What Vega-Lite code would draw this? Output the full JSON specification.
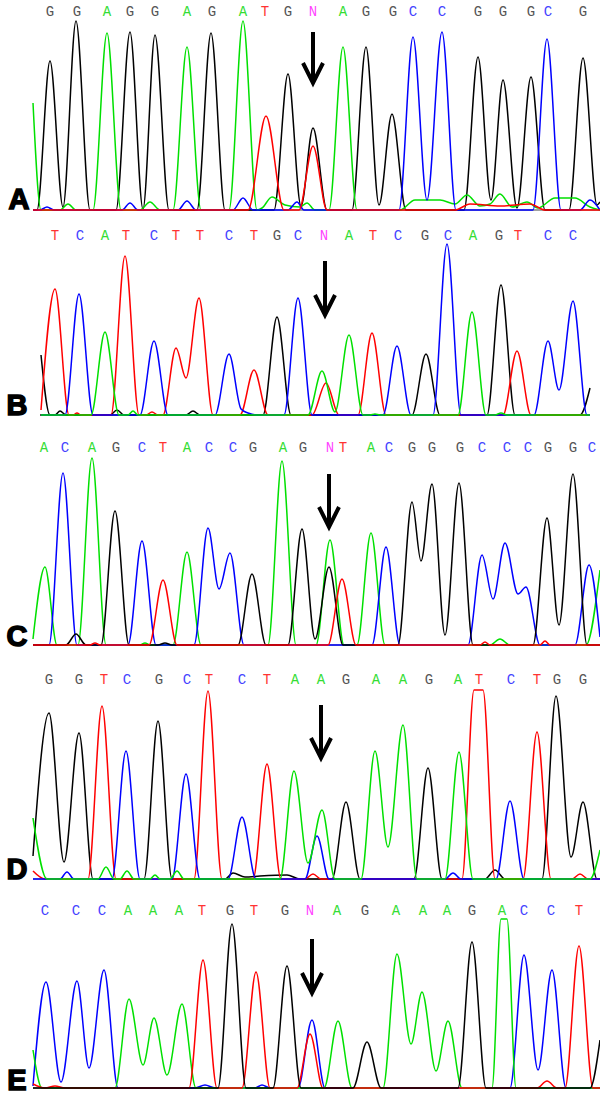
{
"$schema":"https://vega.github.io/schema/vega-lite/v6.json",
"padding":0,"spacing":0,"bounds":"flush",
"config":{"view":{"stroke":null},"concat":{"spacing":0}},
"resolve":{"scale":{"x":"independent","y":"independent","stroke":"independent","fill":"independent"}},
"datasets":{
"arr":[{"p":"A","x":313},{"p":"B","x":325},{"p":"C","x":329},{"p":"D","x":321},{"p":"E","x":312}],
"bases":[
{"p":"A","b":"G","x":50},{"p":"A","b":"G","x":77},{"p":"A","b":"A","x":107},{"p":"A","b":"G","x":130},{"p":"A","b":"G","x":155},{"p":"A","b":"A","x":187},{"p":"A","b":"G","x":212},{"p":"A","b":"A","x":243},{"p":"A","b":"T","x":265},{"p":"A","b":"G","x":288},{"p":"A","b":"N","x":313},{"p":"A","b":"A","x":343},{"p":"A","b":"G","x":366},{"p":"A","b":"G","x":393},{"p":"A","b":"C","x":413},{"p":"A","b":"C","x":442},{"p":"A","b":"G","x":478},{"p":"A","b":"G","x":503},{"p":"A","b":"G","x":531},{"p":"A","b":"C","x":548},{"p":"A","b":"G","x":583},
{"p":"B","b":"T","x":55},{"p":"B","b":"C","x":80},{"p":"B","b":"A","x":105},{"p":"B","b":"T","x":126},{"p":"B","b":"C","x":154},{"p":"B","b":"T","x":176},{"p":"B","b":"T","x":200},{"p":"B","b":"C","x":229},{"p":"B","b":"T","x":254},{"p":"B","b":"G","x":277},{"p":"B","b":"C","x":298},{"p":"B","b":"N","x":324},{"p":"B","b":"A","x":349},{"p":"B","b":"T","x":373},{"p":"B","b":"C","x":398},{"p":"B","b":"G","x":425},{"p":"B","b":"C","x":448},{"p":"B","b":"A","x":473},{"p":"B","b":"G","x":499},{"p":"B","b":"T","x":518},{"p":"B","b":"C","x":548},{"p":"B","b":"C","x":573},
{"p":"C","b":"A","x":44},{"p":"C","b":"C","x":65},{"p":"C","b":"A","x":92},{"p":"C","b":"G","x":116},{"p":"C","b":"C","x":142},{"p":"C","b":"T","x":163},{"p":"C","b":"A","x":187},{"p":"C","b":"C","x":209},{"p":"C","b":"C","x":233},{"p":"C","b":"G","x":253},{"p":"C","b":"A","x":283},{"p":"C","b":"G","x":303},{"p":"C","b":"N","x":330},{"p":"C","b":"T","x":343},{"p":"C","b":"A","x":371},{"p":"C","b":"C","x":389},{"p":"C","b":"G","x":412},{"p":"C","b":"G","x":432},{"p":"C","b":"G","x":460},{"p":"C","b":"C","x":482},{"p":"C","b":"C","x":507},{"p":"C","b":"C","x":528},{"p":"C","b":"G","x":548},{"p":"C","b":"G","x":573},{"p":"C","b":"C","x":592},
{"p":"D","b":"G","x":49},{"p":"D","b":"G","x":79},{"p":"D","b":"T","x":104},{"p":"D","b":"C","x":127},{"p":"D","b":"G","x":159},{"p":"D","b":"C","x":187},{"p":"D","b":"T","x":209},{"p":"D","b":"C","x":242},{"p":"D","b":"T","x":267},{"p":"D","b":"A","x":295},{"p":"D","b":"A","x":321},{"p":"D","b":"G","x":346},{"p":"D","b":"A","x":376},{"p":"D","b":"A","x":403},{"p":"D","b":"G","x":429},{"p":"D","b":"A","x":458},{"p":"D","b":"T","x":479},{"p":"D","b":"C","x":511},{"p":"D","b":"T","x":537},{"p":"D","b":"G","x":557},{"p":"D","b":"G","x":583},
{"p":"E","b":"C","x":45},{"p":"E","b":"C","x":76},{"p":"E","b":"C","x":102},{"p":"E","b":"A","x":128},{"p":"E","b":"A","x":153},{"p":"E","b":"A","x":179},{"p":"E","b":"T","x":202},{"p":"E","b":"G","x":230},{"p":"E","b":"T","x":254},{"p":"E","b":"G","x":285},{"p":"E","b":"N","x":310},{"p":"E","b":"A","x":337},{"p":"E","b":"G","x":365},{"p":"E","b":"A","x":396},{"p":"E","b":"A","x":423},{"p":"E","b":"A","x":447},{"p":"E","b":"G","x":472},{"p":"E","b":"A","x":502},{"p":"E","b":"C","x":524},{"p":"E","b":"C","x":551},{"p":"E","b":"T","x":579}
],
"tr":[
{"p":"A","c":"G","x":33,"y":0},{"p":"A","c":"G","x":37,"y":0},{"p":"A","c":"G","x":50,"y":149},{"p":"A","c":"G","x":63,"y":3},{"p":"A","c":"G","x":76,"y":189},{"p":"A","c":"G","x":90,"y":0},{"p":"A","c":"G","x":116,"y":0},{"p":"A","c":"G","x":130,"y":178},{"p":"A","c":"G","x":143,"y":1},{"p":"A","c":"G","x":155,"y":175},{"p":"A","c":"G","x":169,"y":0},{"p":"A","c":"G","x":197,"y":0},{"p":"A","c":"G","x":211,"y":177},{"p":"A","c":"G","x":225,"y":0},{"p":"A","c":"G","x":274,"y":0},{"p":"A","c":"G","x":288,"y":136},{"p":"A","c":"G","x":301,"y":4},{"p":"A","c":"G","x":313,"y":82},{"p":"A","c":"G","x":327,"y":0},{"p":"A","c":"G","x":352,"y":0},{"p":"A","c":"G","x":366,"y":163},{"p":"A","c":"G","x":379,"y":5},{"p":"A","c":"G","x":392,"y":96},{"p":"A","c":"G","x":406,"y":0},{"p":"A","c":"G","x":464,"y":0},{"p":"A","c":"G","x":478,"y":153},{"p":"A","c":"G","x":491,"y":10},{"p":"A","c":"G","x":503,"y":130},{"p":"A","c":"G","x":517,"y":2},{"p":"A","c":"G","x":531,"y":133},{"p":"A","c":"G","x":545,"y":0},{"p":"A","c":"G","x":569,"y":0},{"p":"A","c":"G","x":583,"y":152},{"p":"A","c":"G","x":597,"y":5},{"p":"A","c":"G","x":600,"y":8},
{"p":"A","c":"A","x":33,"y":107},{"p":"A","c":"A","x":41,"y":0},{"p":"A","c":"A","x":60,"y":0},{"p":"A","c":"A","x":68,"y":6},{"p":"A","c":"A","x":76,"y":0},{"p":"A","c":"A","x":93,"y":0},{"p":"A","c":"A","x":107,"y":177},{"p":"A","c":"A","x":121,"y":0},{"p":"A","c":"A","x":140,"y":0},{"p":"A","c":"A","x":150,"y":8},{"p":"A","c":"A","x":160,"y":0},{"p":"A","c":"A","x":173,"y":0},{"p":"A","c":"A","x":187,"y":163},{"p":"A","c":"A","x":201,"y":0},{"p":"A","c":"A","x":229,"y":0},{"p":"A","c":"A","x":243,"y":189},{"p":"A","c":"A","x":257,"y":0},{"p":"A","c":"A","x":262,"y":2},{"p":"A","c":"A","x":272,"y":13},{"p":"A","c":"A","x":285,"y":5},{"p":"A","c":"A","x":300,"y":3},{"p":"A","c":"A","x":307,"y":7},{"p":"A","c":"A","x":315,"y":0},{"p":"A","c":"A","x":329,"y":0},{"p":"A","c":"A","x":343,"y":163},{"p":"A","c":"A","x":357,"y":0},{"p":"A","c":"A","x":400,"y":0},{"p":"A","c":"A","x":415,"y":10},{"p":"A","c":"A","x":440,"y":10},{"p":"A","c":"A","x":455,"y":6},{"p":"A","c":"A","x":467,"y":15},{"p":"A","c":"A","x":480,"y":4},{"p":"A","c":"A","x":490,"y":6},{"p":"A","c":"A","x":500,"y":16},{"p":"A","c":"A","x":512,"y":3},{"p":"A","c":"A","x":527,"y":8},{"p":"A","c":"A","x":538,"y":2},{"p":"A","c":"A","x":555,"y":12},{"p":"A","c":"A","x":575,"y":12},{"p":"A","c":"A","x":590,"y":3},{"p":"A","c":"A","x":600,"y":0},
{"p":"A","c":"C","x":33,"y":0},{"p":"A","c":"C","x":40,"y":0},{"p":"A","c":"C","x":47,"y":3},{"p":"A","c":"C","x":54,"y":0},{"p":"A","c":"C","x":122,"y":0},{"p":"A","c":"C","x":130,"y":7},{"p":"A","c":"C","x":138,"y":0},{"p":"A","c":"C","x":178,"y":0},{"p":"A","c":"C","x":187,"y":9},{"p":"A","c":"C","x":196,"y":0},{"p":"A","c":"C","x":233,"y":0},{"p":"A","c":"C","x":243,"y":12},{"p":"A","c":"C","x":253,"y":0},{"p":"A","c":"C","x":288,"y":0},{"p":"A","c":"C","x":297,"y":8},{"p":"A","c":"C","x":304,"y":0},{"p":"A","c":"C","x":399,"y":0},{"p":"A","c":"C","x":413,"y":173},{"p":"A","c":"C","x":427,"y":10},{"p":"A","c":"C","x":442,"y":178},{"p":"A","c":"C","x":456,"y":0},{"p":"A","c":"C","x":533,"y":0},{"p":"A","c":"C","x":547,"y":171},{"p":"A","c":"C","x":561,"y":0},{"p":"A","c":"C","x":580,"y":0},{"p":"A","c":"C","x":590,"y":10},{"p":"A","c":"C","x":600,"y":0},
{"p":"A","c":"T","x":33,"y":0},{"p":"A","c":"T","x":248,"y":0},{"p":"A","c":"T","x":266,"y":94},{"p":"A","c":"T","x":284,"y":0},{"p":"A","c":"T","x":299,"y":0},{"p":"A","c":"T","x":313,"y":64},{"p":"A","c":"T","x":327,"y":0},{"p":"A","c":"T","x":455,"y":0},{"p":"A","c":"T","x":470,"y":6},{"p":"A","c":"T","x":500,"y":4},{"p":"A","c":"T","x":530,"y":6},{"p":"A","c":"T","x":545,"y":0},{"p":"A","c":"T","x":600,"y":0},

{"p":"B","c":"G","x":41,"y":60},{"p":"B","c":"G","x":50,"y":0},{"p":"B","c":"G","x":55,"y":0},{"p":"B","c":"G","x":60,"y":4},{"p":"B","c":"G","x":66,"y":0},{"p":"B","c":"G","x":110,"y":0},{"p":"B","c":"G","x":117,"y":5},{"p":"B","c":"G","x":124,"y":0},{"p":"B","c":"G","x":186,"y":0},{"p":"B","c":"G","x":193,"y":4},{"p":"B","c":"G","x":200,"y":0},{"p":"B","c":"G","x":263,"y":0},{"p":"B","c":"G","x":277,"y":98},{"p":"B","c":"G","x":291,"y":0},{"p":"B","c":"G","x":412,"y":0},{"p":"B","c":"G","x":426,"y":61},{"p":"B","c":"G","x":440,"y":0},{"p":"B","c":"G","x":487,"y":0},{"p":"B","c":"G","x":501,"y":130},{"p":"B","c":"G","x":515,"y":0},{"p":"B","c":"G","x":580,"y":0},{"p":"B","c":"G","x":590,"y":27},
{"p":"B","c":"T","x":41,"y":5},{"p":"B","c":"T","x":55,"y":126},{"p":"B","c":"T","x":69,"y":0},{"p":"B","c":"T","x":73,"y":0},{"p":"B","c":"T","x":77,"y":2},{"p":"B","c":"T","x":81,"y":0},{"p":"B","c":"T","x":111,"y":0},{"p":"B","c":"T","x":125,"y":159},{"p":"B","c":"T","x":139,"y":0},{"p":"B","c":"T","x":146,"y":0},{"p":"B","c":"T","x":152,"y":3},{"p":"B","c":"T","x":158,"y":0},{"p":"B","c":"T","x":163,"y":0},{"p":"B","c":"T","x":176,"y":67},{"p":"B","c":"T","x":186,"y":37},{"p":"B","c":"T","x":199,"y":117},{"p":"B","c":"T","x":213,"y":0},{"p":"B","c":"T","x":240,"y":0},{"p":"B","c":"T","x":254,"y":45},{"p":"B","c":"T","x":268,"y":0},{"p":"B","c":"T","x":312,"y":0},{"p":"B","c":"T","x":326,"y":32},{"p":"B","c":"T","x":339,"y":0},{"p":"B","c":"T","x":358,"y":0},{"p":"B","c":"T","x":372,"y":82},{"p":"B","c":"T","x":386,"y":0},{"p":"B","c":"T","x":503,"y":0},{"p":"B","c":"T","x":517,"y":64},{"p":"B","c":"T","x":531,"y":0},{"p":"B","c":"T","x":590,"y":0},
{"p":"B","c":"C","x":41,"y":0},{"p":"B","c":"C","x":65,"y":0},{"p":"B","c":"C","x":79,"y":121},{"p":"B","c":"C","x":93,"y":0},{"p":"B","c":"C","x":140,"y":0},{"p":"B","c":"C","x":154,"y":74},{"p":"B","c":"C","x":168,"y":0},{"p":"B","c":"C","x":215,"y":0},{"p":"B","c":"C","x":229,"y":61},{"p":"B","c":"C","x":241,"y":6},{"p":"B","c":"C","x":248,"y":2},{"p":"B","c":"C","x":258,"y":0},{"p":"B","c":"C","x":284,"y":0},{"p":"B","c":"C","x":298,"y":117},{"p":"B","c":"C","x":312,"y":0},{"p":"B","c":"C","x":383,"y":0},{"p":"B","c":"C","x":397,"y":69},{"p":"B","c":"C","x":411,"y":0},{"p":"B","c":"C","x":433,"y":0},{"p":"B","c":"C","x":447,"y":171},{"p":"B","c":"C","x":461,"y":0},{"p":"B","c":"C","x":534,"y":0},{"p":"B","c":"C","x":548,"y":74},{"p":"B","c":"C","x":559,"y":25},{"p":"B","c":"C","x":573,"y":114},{"p":"B","c":"C","x":587,"y":0},{"p":"B","c":"C","x":590,"y":0},
{"p":"B","c":"A","x":41,"y":0},{"p":"B","c":"A","x":91,"y":0},{"p":"B","c":"A","x":105,"y":83},{"p":"B","c":"A","x":119,"y":0},{"p":"B","c":"A","x":128,"y":0},{"p":"B","c":"A","x":133,"y":4},{"p":"B","c":"A","x":138,"y":0},{"p":"B","c":"A","x":308,"y":0},{"p":"B","c":"A","x":322,"y":44},{"p":"B","c":"A","x":335,"y":3},{"p":"B","c":"A","x":349,"y":80},{"p":"B","c":"A","x":363,"y":0},{"p":"B","c":"A","x":370,"y":0},{"p":"B","c":"A","x":375,"y":1},{"p":"B","c":"A","x":380,"y":0},{"p":"B","c":"A","x":458,"y":0},{"p":"B","c":"A","x":472,"y":103},{"p":"B","c":"A","x":486,"y":0},{"p":"B","c":"A","x":495,"y":0},{"p":"B","c":"A","x":501,"y":2},{"p":"B","c":"A","x":507,"y":0},{"p":"B","c":"A","x":590,"y":0},

{"p":"C","c":"A","x":33,"y":6},{"p":"C","c":"A","x":45,"y":78},{"p":"C","c":"A","x":57,"y":0},{"p":"C","c":"A","x":78,"y":0},{"p":"C","c":"A","x":92,"y":187},{"p":"C","c":"A","x":106,"y":0},{"p":"C","c":"A","x":140,"y":0},{"p":"C","c":"A","x":145,"y":2},{"p":"C","c":"A","x":150,"y":0},{"p":"C","c":"A","x":173,"y":0},{"p":"C","c":"A","x":187,"y":93},{"p":"C","c":"A","x":201,"y":0},{"p":"C","c":"A","x":268,"y":0},{"p":"C","c":"A","x":282,"y":184},{"p":"C","c":"A","x":296,"y":0},{"p":"C","c":"A","x":316,"y":0},{"p":"C","c":"A","x":330,"y":105},{"p":"C","c":"A","x":344,"y":0},{"p":"C","c":"A","x":357,"y":0},{"p":"C","c":"A","x":371,"y":112},{"p":"C","c":"A","x":385,"y":0},{"p":"C","c":"A","x":490,"y":0},{"p":"C","c":"A","x":500,"y":6},{"p":"C","c":"A","x":510,"y":0},{"p":"C","c":"A","x":586,"y":0},{"p":"C","c":"A","x":600,"y":75},
{"p":"C","c":"C","x":33,"y":0},{"p":"C","c":"C","x":49,"y":0},{"p":"C","c":"C","x":63,"y":172},{"p":"C","c":"C","x":77,"y":0},{"p":"C","c":"C","x":128,"y":0},{"p":"C","c":"C","x":142,"y":104},{"p":"C","c":"C","x":156,"y":0},{"p":"C","c":"C","x":194,"y":0},{"p":"C","c":"C","x":208,"y":117},{"p":"C","c":"C","x":219,"y":56},{"p":"C","c":"C","x":230,"y":92},{"p":"C","c":"C","x":244,"y":0},{"p":"C","c":"C","x":372,"y":0},{"p":"C","c":"C","x":386,"y":98},{"p":"C","c":"C","x":400,"y":0},{"p":"C","c":"C","x":468,"y":0},{"p":"C","c":"C","x":482,"y":90},{"p":"C","c":"C","x":493,"y":46},{"p":"C","c":"C","x":505,"y":102},{"p":"C","c":"C","x":518,"y":51},{"p":"C","c":"C","x":526,"y":58},{"p":"C","c":"C","x":540,"y":0},{"p":"C","c":"C","x":575,"y":0},{"p":"C","c":"C","x":589,"y":80},{"p":"C","c":"C","x":600,"y":8},
{"p":"C","c":"G","x":33,"y":0},{"p":"C","c":"G","x":66,"y":0},{"p":"C","c":"G","x":76,"y":11},{"p":"C","c":"G","x":86,"y":0},{"p":"C","c":"G","x":101,"y":0},{"p":"C","c":"G","x":115,"y":134},{"p":"C","c":"G","x":129,"y":0},{"p":"C","c":"G","x":158,"y":0},{"p":"C","c":"G","x":165,"y":2},{"p":"C","c":"G","x":172,"y":0},{"p":"C","c":"G","x":238,"y":0},{"p":"C","c":"G","x":252,"y":71},{"p":"C","c":"G","x":266,"y":0},{"p":"C","c":"G","x":288,"y":0},{"p":"C","c":"G","x":302,"y":116},{"p":"C","c":"G","x":315,"y":6},{"p":"C","c":"G","x":329,"y":78},{"p":"C","c":"G","x":343,"y":0},{"p":"C","c":"G","x":398,"y":0},{"p":"C","c":"G","x":412,"y":143},{"p":"C","c":"G","x":421,"y":84},{"p":"C","c":"G","x":432,"y":161},{"p":"C","c":"G","x":445,"y":10},{"p":"C","c":"G","x":459,"y":162},{"p":"C","c":"G","x":473,"y":0},{"p":"C","c":"G","x":533,"y":0},{"p":"C","c":"G","x":547,"y":127},{"p":"C","c":"G","x":559,"y":20},{"p":"C","c":"G","x":573,"y":171},{"p":"C","c":"G","x":587,"y":0},{"p":"C","c":"G","x":600,"y":0},
{"p":"C","c":"T","x":33,"y":0},{"p":"C","c":"T","x":90,"y":0},{"p":"C","c":"T","x":95,"y":2},{"p":"C","c":"T","x":100,"y":0},{"p":"C","c":"T","x":149,"y":0},{"p":"C","c":"T","x":163,"y":65},{"p":"C","c":"T","x":177,"y":0},{"p":"C","c":"T","x":328,"y":0},{"p":"C","c":"T","x":342,"y":66},{"p":"C","c":"T","x":356,"y":0},{"p":"C","c":"T","x":480,"y":0},{"p":"C","c":"T","x":485,"y":3},{"p":"C","c":"T","x":490,"y":0},{"p":"C","c":"T","x":540,"y":0},{"p":"C","c":"T","x":545,"y":4},{"p":"C","c":"T","x":550,"y":0},{"p":"C","c":"T","x":600,"y":0},

{"p":"D","c":"G","x":33,"y":23},{"p":"D","c":"G","x":49,"y":166},{"p":"D","c":"G","x":64,"y":17},{"p":"D","c":"G","x":79,"y":146},{"p":"D","c":"G","x":93,"y":0},{"p":"D","c":"G","x":144,"y":0},{"p":"D","c":"G","x":158,"y":158},{"p":"D","c":"G","x":172,"y":0},{"p":"D","c":"G","x":225,"y":0},{"p":"D","c":"G","x":233,"y":6},{"p":"D","c":"G","x":245,"y":2},{"p":"D","c":"G","x":260,"y":3},{"p":"D","c":"G","x":287,"y":4},{"p":"D","c":"G","x":300,"y":0},{"p":"D","c":"G","x":332,"y":0},{"p":"D","c":"G","x":346,"y":77},{"p":"D","c":"G","x":360,"y":0},{"p":"D","c":"G","x":414,"y":0},{"p":"D","c":"G","x":428,"y":111},{"p":"D","c":"G","x":442,"y":0},{"p":"D","c":"G","x":485,"y":0},{"p":"D","c":"G","x":495,"y":9},{"p":"D","c":"G","x":505,"y":0},{"p":"D","c":"G","x":542,"y":0},{"p":"D","c":"G","x":556,"y":183},{"p":"D","c":"G","x":571,"y":22},{"p":"D","c":"G","x":583,"y":77},{"p":"D","c":"G","x":597,"y":0},{"p":"D","c":"G","x":600,"y":0},
{"p":"D","c":"T","x":33,"y":8},{"p":"D","c":"T","x":45,"y":0},{"p":"D","c":"T","x":88,"y":0},{"p":"D","c":"T","x":102,"y":173},{"p":"D","c":"T","x":116,"y":0},{"p":"D","c":"T","x":194,"y":0},{"p":"D","c":"T","x":208,"y":188},{"p":"D","c":"T","x":222,"y":0},{"p":"D","c":"T","x":253,"y":0},{"p":"D","c":"T","x":267,"y":115},{"p":"D","c":"T","x":281,"y":0},{"p":"D","c":"T","x":305,"y":0},{"p":"D","c":"T","x":313,"y":5},{"p":"D","c":"T","x":321,"y":0},{"p":"D","c":"T","x":462,"y":0},{"p":"D","c":"T","x":474,"y":189},{"p":"D","c":"T","x":483,"y":189},{"p":"D","c":"T","x":495,"y":0},{"p":"D","c":"T","x":523,"y":0},{"p":"D","c":"T","x":537,"y":147},{"p":"D","c":"T","x":551,"y":0},{"p":"D","c":"T","x":572,"y":0},{"p":"D","c":"T","x":580,"y":5},{"p":"D","c":"T","x":588,"y":0},{"p":"D","c":"T","x":600,"y":0},
{"p":"D","c":"C","x":33,"y":0},{"p":"D","c":"C","x":60,"y":0},{"p":"D","c":"C","x":67,"y":7},{"p":"D","c":"C","x":74,"y":0},{"p":"D","c":"C","x":112,"y":0},{"p":"D","c":"C","x":126,"y":128},{"p":"D","c":"C","x":140,"y":0},{"p":"D","c":"C","x":172,"y":0},{"p":"D","c":"C","x":186,"y":105},{"p":"D","c":"C","x":200,"y":0},{"p":"D","c":"C","x":228,"y":0},{"p":"D","c":"C","x":242,"y":62},{"p":"D","c":"C","x":256,"y":0},{"p":"D","c":"C","x":305,"y":0},{"p":"D","c":"C","x":317,"y":43},{"p":"D","c":"C","x":329,"y":0},{"p":"D","c":"C","x":445,"y":0},{"p":"D","c":"C","x":453,"y":6},{"p":"D","c":"C","x":461,"y":0},{"p":"D","c":"C","x":496,"y":0},{"p":"D","c":"C","x":510,"y":78},{"p":"D","c":"C","x":524,"y":0},{"p":"D","c":"C","x":600,"y":0},
{"p":"D","c":"A","x":33,"y":61},{"p":"D","c":"A","x":47,"y":0},{"p":"D","c":"A","x":98,"y":0},{"p":"D","c":"A","x":106,"y":12},{"p":"D","c":"A","x":114,"y":0},{"p":"D","c":"A","x":120,"y":0},{"p":"D","c":"A","x":127,"y":8},{"p":"D","c":"A","x":134,"y":0},{"p":"D","c":"A","x":150,"y":0},{"p":"D","c":"A","x":155,"y":4},{"p":"D","c":"A","x":160,"y":0},{"p":"D","c":"A","x":170,"y":0},{"p":"D","c":"A","x":177,"y":8},{"p":"D","c":"A","x":184,"y":0},{"p":"D","c":"A","x":280,"y":0},{"p":"D","c":"A","x":294,"y":108},{"p":"D","c":"A","x":308,"y":16},{"p":"D","c":"A","x":322,"y":69},{"p":"D","c":"A","x":335,"y":0},{"p":"D","c":"A","x":361,"y":0},{"p":"D","c":"A","x":375,"y":128},{"p":"D","c":"A","x":388,"y":32},{"p":"D","c":"A","x":403,"y":154},{"p":"D","c":"A","x":417,"y":0},{"p":"D","c":"A","x":445,"y":0},{"p":"D","c":"A","x":459,"y":127},{"p":"D","c":"A","x":473,"y":0},{"p":"D","c":"A","x":590,"y":0},{"p":"D","c":"A","x":600,"y":29},

{"p":"E","c":"C","x":33,"y":2},{"p":"E","c":"C","x":46,"y":106},{"p":"E","c":"C","x":61,"y":6},{"p":"E","c":"C","x":77,"y":107},{"p":"E","c":"C","x":89,"y":20},{"p":"E","c":"C","x":104,"y":118},{"p":"E","c":"C","x":118,"y":0},{"p":"E","c":"C","x":195,"y":0},{"p":"E","c":"C","x":205,"y":3},{"p":"E","c":"C","x":215,"y":0},{"p":"E","c":"C","x":255,"y":0},{"p":"E","c":"C","x":262,"y":3},{"p":"E","c":"C","x":270,"y":0},{"p":"E","c":"C","x":298,"y":0},{"p":"E","c":"C","x":312,"y":68},{"p":"E","c":"C","x":325,"y":0},{"p":"E","c":"C","x":510,"y":0},{"p":"E","c":"C","x":524,"y":133},{"p":"E","c":"C","x":538,"y":18},{"p":"E","c":"C","x":552,"y":118},{"p":"E","c":"C","x":566,"y":0},{"p":"E","c":"C","x":600,"y":0},
{"p":"E","c":"A","x":33,"y":38},{"p":"E","c":"A","x":42,"y":0},{"p":"E","c":"A","x":115,"y":0},{"p":"E","c":"A","x":129,"y":89},{"p":"E","c":"A","x":143,"y":23},{"p":"E","c":"A","x":154,"y":70},{"p":"E","c":"A","x":167,"y":13},{"p":"E","c":"A","x":182,"y":84},{"p":"E","c":"A","x":196,"y":0},{"p":"E","c":"A","x":324,"y":0},{"p":"E","c":"A","x":338,"y":67},{"p":"E","c":"A","x":352,"y":0},{"p":"E","c":"A","x":383,"y":0},{"p":"E","c":"A","x":397,"y":134},{"p":"E","c":"A","x":411,"y":44},{"p":"E","c":"A","x":422,"y":96},{"p":"E","c":"A","x":436,"y":17},{"p":"E","c":"A","x":448,"y":67},{"p":"E","c":"A","x":462,"y":0},{"p":"E","c":"A","x":492,"y":0},{"p":"E","c":"A","x":501,"y":169},{"p":"E","c":"A","x":507,"y":169},{"p":"E","c":"A","x":516,"y":0},{"p":"E","c":"A","x":600,"y":0},
{"p":"E","c":"T","x":33,"y":4},{"p":"E","c":"T","x":45,"y":0},{"p":"E","c":"T","x":55,"y":2},{"p":"E","c":"T","x":65,"y":0},{"p":"E","c":"T","x":189,"y":0},{"p":"E","c":"T","x":203,"y":128},{"p":"E","c":"T","x":217,"y":0},{"p":"E","c":"T","x":242,"y":0},{"p":"E","c":"T","x":256,"y":116},{"p":"E","c":"T","x":270,"y":0},{"p":"E","c":"T","x":297,"y":0},{"p":"E","c":"T","x":310,"y":54},{"p":"E","c":"T","x":323,"y":0},{"p":"E","c":"T","x":537,"y":0},{"p":"E","c":"T","x":547,"y":7},{"p":"E","c":"T","x":557,"y":0},{"p":"E","c":"T","x":565,"y":0},{"p":"E","c":"T","x":579,"y":142},{"p":"E","c":"T","x":593,"y":0},{"p":"E","c":"T","x":600,"y":0},
{"p":"E","c":"G","x":33,"y":0},{"p":"E","c":"G","x":218,"y":0},{"p":"E","c":"G","x":232,"y":164},{"p":"E","c":"G","x":246,"y":0},{"p":"E","c":"G","x":273,"y":0},{"p":"E","c":"G","x":287,"y":122},{"p":"E","c":"G","x":301,"y":0},{"p":"E","c":"G","x":353,"y":0},{"p":"E","c":"G","x":367,"y":46},{"p":"E","c":"G","x":381,"y":0},{"p":"E","c":"G","x":458,"y":0},{"p":"E","c":"G","x":472,"y":146},{"p":"E","c":"G","x":486,"y":0},{"p":"E","c":"G","x":590,"y":0},{"p":"E","c":"G","x":600,"y":48}
]},
"vconcat":[
{"width":600,"height":215,"layer":[
{"data":{"name":"arr"},"transform":[{"filter":"datum.p==='A'"}],"mark":{"type":"rule","color":"#a0a0a0","strokeWidth":2},"encoding":{"x":{"datum":33,"type":"quantitative","scale":{"domain":[0,600],"nice":false,"zero":false},"axis":null},"x2":{"datum":600},"y":{"datum":0,"type":"quantitative","scale":{"domain":[-5,210],"nice":false,"zero":false},"axis":null}}},
{"data":{"name":"tr"},"transform":[{"filter":"datum.p==='A'"}],"mark":{"type":"line","interpolate":"monotone","strokeWidth":1.5,"clip":true},"encoding":{"x":{"field":"x","type":"quantitative"},"y":{"field":"y","type":"quantitative"},"stroke":{"field":"c","type":"nominal","scale":{"domain":["G","A","T","C"],"range":["#000000","#00e000","#ff0000","#0000ff"]},"legend":null}}},
{"data":{"name":"bases"},"transform":[{"filter":"datum.p==='A'"}],"mark":{"type":"text","font":"Liberation Mono","fontSize":14,"baseline":"middle","align":"center"},"encoding":{"x":{"field":"x","type":"quantitative"},"y":{"datum":198},"text":{"field":"b"},"fill":{"field":"b","type":"nominal","scale":{"domain":["G","A","T","C","N"],"range":["#555555","#33dd33","#ff3333","#4444ff","#ff44ff"]},"legend":null}}},
{"data":{"name":"arr"},"transform":[{"filter":"datum.p==='A'"}],"mark":{"type":"rule","color":"#000000","strokeWidth":4},"encoding":{"x":{"field":"x","type":"quantitative"},"y":{"datum":178},"y2":{"datum":130}}},
{"data":{"name":"arr"},"transform":[{"filter":"datum.p==='A'"}],"mark":{"type":"point","shape":"M-0.5,-1L0,0L0.5,-1","filled":false,"stroke":"#000000","strokeWidth":4,"size":1600,"opacity":1},"encoding":{"x":{"field":"x","type":"quantitative"},"y":{"datum":127}}},
{"data":{"name":"arr"},"transform":[{"filter":"datum.p==='A'"}],"mark":{"type":"text","font":"Liberation Sans","fontWeight":"bold","fontSize":29,"stroke":"#000000","strokeWidth":1.5,"fill":"#000000","align":"center","baseline":"alphabetic"},"encoding":{"x":{"datum":19},"y":{"datum":1},"text":{"field":"p"}}}
]},
{"width":600,"height":218,"layer":[
{"data":{"name":"arr"},"transform":[{"filter":"datum.p==='B'"}],"mark":{"type":"rule","color":"#505050","strokeWidth":2},"encoding":{"x":{"datum":40,"type":"quantitative","scale":{"domain":[0,600],"nice":false,"zero":false},"axis":null},"x2":{"datum":590},"y":{"datum":0,"type":"quantitative","scale":{"domain":[-18,200],"nice":false,"zero":false},"axis":null}}},
{"data":{"name":"tr"},"transform":[{"filter":"datum.p==='B'"}],"mark":{"type":"line","interpolate":"monotone","strokeWidth":1.5,"clip":true},"encoding":{"x":{"field":"x","type":"quantitative"},"y":{"field":"y","type":"quantitative"},"stroke":{"field":"c","type":"nominal","scale":{"domain":["G","A","T","C"],"range":["#000000","#00e000","#ff0000","#0000ff"]},"legend":null}}},
{"data":{"name":"bases"},"transform":[{"filter":"datum.p==='B'"}],"mark":{"type":"text","font":"Liberation Mono","fontSize":14,"baseline":"middle","align":"center"},"encoding":{"x":{"field":"x","type":"quantitative"},"y":{"datum":179},"text":{"field":"b"},"fill":{"field":"b","type":"nominal","scale":{"domain":["G","A","T","C","N"],"range":["#555555","#33dd33","#ff3333","#4444ff","#ff44ff"]},"legend":null}}},
{"data":{"name":"arr"},"transform":[{"filter":"datum.p==='B'"}],"mark":{"type":"rule","color":"#000000","strokeWidth":4},"encoding":{"x":{"field":"x","type":"quantitative"},"y":{"datum":154},"y2":{"datum":103}}},
{"data":{"name":"arr"},"transform":[{"filter":"datum.p==='B'"}],"mark":{"type":"point","shape":"M-0.5,-1L0,0L0.5,-1","filled":false,"stroke":"#000000","strokeWidth":4,"size":1600,"opacity":1},"encoding":{"x":{"field":"x","type":"quantitative"},"y":{"datum":100}}},
{"data":{"name":"arr"},"transform":[{"filter":"datum.p==='B'"}],"mark":{"type":"text","font":"Liberation Sans","fontWeight":"bold","fontSize":29,"stroke":"#000000","strokeWidth":1.5,"fill":"#000000","align":"center","baseline":"alphabetic"},"encoding":{"x":{"datum":17},"y":{"datum":0},"text":{"field":"p"}}}
]},
{"width":600,"height":220,"layer":[
{"data":{"name":"arr"},"transform":[{"filter":"datum.p==='C'"}],"mark":{"type":"rule","color":"#a0a0a0","strokeWidth":2},"encoding":{"x":{"datum":33,"type":"quantitative","scale":{"domain":[0,600],"nice":false,"zero":false},"axis":null},"x2":{"datum":600},"y":{"datum":0,"type":"quantitative","scale":{"domain":[-8,212],"nice":false,"zero":false},"axis":null}}},
{"data":{"name":"tr"},"transform":[{"filter":"datum.p==='C'"}],"mark":{"type":"line","interpolate":"monotone","strokeWidth":1.5,"clip":true},"encoding":{"x":{"field":"x","type":"quantitative"},"y":{"field":"y","type":"quantitative"},"stroke":{"field":"c","type":"nominal","scale":{"domain":["G","A","T","C"],"range":["#000000","#00e000","#ff0000","#0000ff"]},"legend":null}}},
{"data":{"name":"bases"},"transform":[{"filter":"datum.p==='C'"}],"mark":{"type":"text","font":"Liberation Mono","fontSize":14,"baseline":"middle","align":"center"},"encoding":{"x":{"field":"x","type":"quantitative"},"y":{"datum":197},"text":{"field":"b"},"fill":{"field":"b","type":"nominal","scale":{"domain":["G","A","T","C","N"],"range":["#555555","#33dd33","#ff3333","#4444ff","#ff44ff"]},"legend":null}}},
{"data":{"name":"arr"},"transform":[{"filter":"datum.p==='C'"}],"mark":{"type":"rule","color":"#000000","strokeWidth":4},"encoding":{"x":{"field":"x","type":"quantitative"},"y":{"datum":171},"y2":{"datum":121}}},
{"data":{"name":"arr"},"transform":[{"filter":"datum.p==='C'"}],"mark":{"type":"point","shape":"M-0.5,-1L0,0L0.5,-1","filled":false,"stroke":"#000000","strokeWidth":4,"size":1600,"opacity":1},"encoding":{"x":{"field":"x","type":"quantitative"},"y":{"datum":118}}},
{"data":{"name":"arr"},"transform":[{"filter":"datum.p==='C'"}],"mark":{"type":"text","font":"Liberation Sans","fontWeight":"bold","fontSize":29,"stroke":"#000000","strokeWidth":1.5,"fill":"#000000","align":"center","baseline":"alphabetic"},"encoding":{"x":{"datum":17},"y":{"datum":-1},"text":{"field":"p"}}}
]},
{"width":600,"height":227,"layer":[
{"data":{"name":"arr"},"transform":[{"filter":"datum.p==='D'"}],"mark":{"type":"rule","color":"#a0a0a0","strokeWidth":2},"encoding":{"x":{"datum":33,"type":"quantitative","scale":{"domain":[0,600],"nice":false,"zero":false},"axis":null},"x2":{"datum":600},"y":{"datum":0,"type":"quantitative","scale":{"domain":[-1,226],"nice":false,"zero":false},"axis":null}}},
{"data":{"name":"tr"},"transform":[{"filter":"datum.p==='D'"}],"mark":{"type":"line","interpolate":"monotone","strokeWidth":1.5,"clip":true},"encoding":{"x":{"field":"x","type":"quantitative"},"y":{"field":"y","type":"quantitative"},"stroke":{"field":"c","type":"nominal","scale":{"domain":["G","A","T","C"],"range":["#000000","#00e000","#ff0000","#0000ff"]},"legend":null}}},
{"data":{"name":"bases"},"transform":[{"filter":"datum.p==='D'"}],"mark":{"type":"text","font":"Liberation Mono","fontSize":14,"baseline":"middle","align":"center"},"encoding":{"x":{"field":"x","type":"quantitative"},"y":{"datum":199},"text":{"field":"b"},"fill":{"field":"b","type":"nominal","scale":{"domain":["G","A","T","C","N"],"range":["#555555","#33dd33","#ff3333","#4444ff","#ff44ff"]},"legend":null}}},
{"data":{"name":"arr"},"transform":[{"filter":"datum.p==='D'"}],"mark":{"type":"rule","color":"#000000","strokeWidth":4},"encoding":{"x":{"field":"x","type":"quantitative"},"y":{"datum":174},"y2":{"datum":124}}},
{"data":{"name":"arr"},"transform":[{"filter":"datum.p==='D'"}],"mark":{"type":"point","shape":"M-0.5,-1L0,0L0.5,-1","filled":false,"stroke":"#000000","strokeWidth":4,"size":1600,"opacity":1},"encoding":{"x":{"field":"x","type":"quantitative"},"y":{"datum":121}}},
{"data":{"name":"arr"},"transform":[{"filter":"datum.p==='D'"}],"mark":{"type":"text","font":"Liberation Sans","fontWeight":"bold","fontSize":29,"stroke":"#000000","strokeWidth":1.5,"fill":"#000000","align":"center","baseline":"alphabetic"},"encoding":{"x":{"datum":17},"y":{"datum":0},"text":{"field":"p"}}}
]},
{"width":600,"height":220,"layer":[
{"data":{"name":"arr"},"transform":[{"filter":"datum.p==='E'"}],"mark":{"type":"rule","color":"#a0a0a0","strokeWidth":2},"encoding":{"x":{"datum":33,"type":"quantitative","scale":{"domain":[0,600],"nice":false,"zero":false},"axis":null},"x2":{"datum":600},"y":{"datum":0,"type":"quantitative","scale":{"domain":[-12,208],"nice":false,"zero":false},"axis":null}}},
{"data":{"name":"tr"},"transform":[{"filter":"datum.p==='E'"}],"mark":{"type":"line","interpolate":"monotone","strokeWidth":1.5,"clip":true},"encoding":{"x":{"field":"x","type":"quantitative"},"y":{"field":"y","type":"quantitative"},"stroke":{"field":"c","type":"nominal","scale":{"domain":["G","A","T","C"],"range":["#000000","#00e000","#ff0000","#0000ff"]},"legend":null}}},
{"data":{"name":"bases"},"transform":[{"filter":"datum.p==='E'"}],"mark":{"type":"text","font":"Liberation Mono","fontSize":14,"baseline":"middle","align":"center"},"encoding":{"x":{"field":"x","type":"quantitative"},"y":{"datum":177},"text":{"field":"b"},"fill":{"field":"b","type":"nominal","scale":{"domain":["G","A","T","C","N"],"range":["#555555","#33dd33","#ff3333","#4444ff","#ff44ff"]},"legend":null}}},
{"data":{"name":"arr"},"transform":[{"filter":"datum.p==='E'"}],"mark":{"type":"rule","color":"#000000","strokeWidth":4},"encoding":{"x":{"field":"x","type":"quantitative"},"y":{"datum":149},"y2":{"datum":98}}},
{"data":{"name":"arr"},"transform":[{"filter":"datum.p==='E'"}],"mark":{"type":"point","shape":"M-0.5,-1L0,0L0.5,-1","filled":false,"stroke":"#000000","strokeWidth":4,"size":1600,"opacity":1},"encoding":{"x":{"field":"x","type":"quantitative"},"y":{"datum":95}}},
{"data":{"name":"arr"},"transform":[{"filter":"datum.p==='E'"}],"mark":{"type":"text","font":"Liberation Sans","fontWeight":"bold","fontSize":29,"stroke":"#000000","strokeWidth":1.5,"fill":"#000000","align":"center","baseline":"alphabetic"},"encoding":{"x":{"datum":17},"y":{"datum":-2},"text":{"field":"p"}}}
]}
]}
